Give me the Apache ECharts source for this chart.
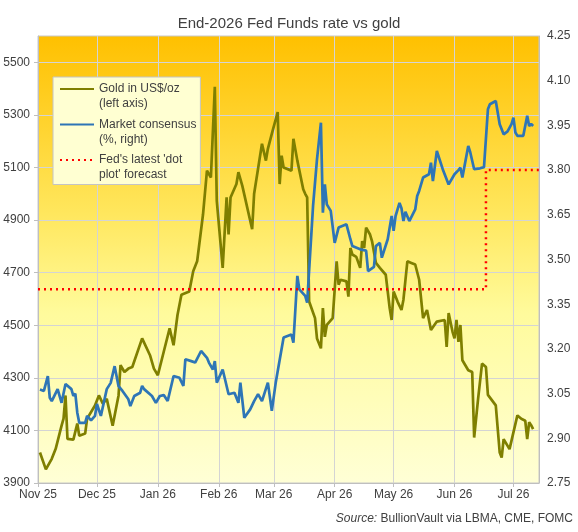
<!DOCTYPE html>
<html>
<head>
<meta charset="utf-8">
<script src="https://cdn.jsdelivr.net/npm/echarts@6/dist/echarts.min.js"></script>
<style>
    html, body { margin: 0; padding: 0; background: #fff; }
    #chart { width: 578px; height: 532px; }
</style>
</head>
<body>
<div id="chart"></div>
<script>
// month starts used for x ticks / labels
var monthStarts = ['2025-11-01', '2025-12-01', '2026-01-01', '2026-02-01', '2026-03-01',
    '2026-04-01', '2026-05-01', '2026-06-01', '2026-07-01'];
var monthNames = ['Jan', 'Feb', 'Mar', 'Apr', 'May', 'Jun', 'Jul', 'Aug', 'Sep', 'Oct', 'Nov', 'Dec'];
var leftTicks = [3900, 4100, 4300, 4500, 4700, 4900, 5100, 5300, 5500];
var rightTicks = [2.75, 2.90, 3.05, 3.20, 3.35, 3.50, 3.65, 3.80, 3.95, 4.10, 4.25];

// gold, US$/oz (left axis)
var goldDates = [
    '2025-11-02', '2025-11-03', '2025-11-05', '2025-11-08', '2025-11-10', '2025-11-13', '2025-11-14', '2025-11-15',
    '2025-11-16', '2025-11-19', '2025-11-20', '2025-11-21', '2025-11-22', '2025-11-25', '2025-11-26', '2025-11-30',
    '2025-12-02', '2025-12-04', '2025-12-06', '2025-12-09', '2025-12-11', '2025-12-12', '2025-12-13', '2025-12-15',
    '2025-12-17', '2025-12-19', '2025-12-20', '2025-12-24', '2025-12-28', '2025-12-30', '2026-01-01', '2026-01-04',
    '2026-01-07', '2026-01-09', '2026-01-11', '2026-01-13', '2026-01-14', '2026-01-17', '2026-01-19', '2026-01-21',
    '2026-01-24', '2026-01-26', '2026-01-28', '2026-01-30', '2026-01-31', '2026-02-03', '2026-02-05', '2026-02-06',
    '2026-02-07', '2026-02-10', '2026-02-11', '2026-02-13', '2026-02-18', '2026-02-19', '2026-02-20', '2026-02-23',
    '2026-02-25', '2026-02-26', '2026-02-28', '2026-03-03', '2026-03-04', '2026-03-05', '2026-03-06', '2026-03-10',
    '2026-03-11', '2026-03-13', '2026-03-16', '2026-03-17', '2026-03-18', '2026-03-19', '2026-03-22', '2026-03-23',
    '2026-03-25', '2026-03-26', '2026-03-27', '2026-03-28', '2026-03-31', '2026-04-02', '2026-04-03', '2026-04-04',
    '2026-04-07', '2026-04-08', '2026-04-09', '2026-04-10', '2026-04-12', '2026-04-14', '2026-04-15', '2026-04-16',
    '2026-04-17', '2026-04-19', '2026-04-20', '2026-04-22', '2026-04-24', '2026-04-27', '2026-04-29', '2026-04-30',
    '2026-05-01', '2026-05-03', '2026-05-05', '2026-05-06', '2026-05-08', '2026-05-10', '2026-05-12', '2026-05-13',
    '2026-05-14', '2026-05-16', '2026-05-18', '2026-05-20', '2026-05-23', '2026-05-27', '2026-05-28', '2026-05-29',
    '2026-05-31', '2026-06-01', '2026-06-02', '2026-06-03', '2026-06-04', '2026-06-05', '2026-06-08', '2026-06-10',
    '2026-06-11', '2026-06-13', '2026-06-15', '2026-06-17', '2026-06-18', '2026-06-22', '2026-06-24', '2026-06-25',
    '2026-06-26', '2026-06-29', '2026-06-30', '2026-07-03', '2026-07-05', '2026-07-07', '2026-07-08', '2026-07-09',
    '2026-07-10', '2026-07-11'
];
var goldPrices = [
    4016, 4022, 3952, 3992, 4030, 4118, 4145, 4233,
    4068, 4065, 4061, 4126, 4080, 4088, 4145, 4195,
    4233, 4202, 4220, 4118, 4195, 4233, 4348, 4322,
    4335, 4341, 4335, 4450, 4386, 4335, 4310, 4399,
    4488, 4424, 4539, 4616, 4622, 4628, 4705, 4743,
    4922, 5088, 5062, 5407, 4973, 4718, 4986, 4845,
    4986, 5037, 5082, 5030, 4865, 5000, 5007, 5190,
    5126, 5171, 5228, 5311, 5037, 5145, 5100, 5088,
    5209, 5126, 5017, 5000, 4986, 4590, 4527, 4450,
    4412, 4565, 4456, 4501, 4527, 4743, 4654, 4673,
    4667, 4609, 4794, 4769, 4760, 4718, 4820, 4794,
    4871, 4845, 4820, 4737, 4718, 4692, 4565, 4520,
    4628, 4590, 4558, 4597, 4743, 4737, 4731, 4737,
    4673, 4527, 4558, 4482, 4514, 4520, 4418, 4546,
    4475, 4450, 4520, 4437, 4501, 4367, 4329, 4322,
    4073, 4220, 4354, 4341, 4235, 4195, 4016, 3997,
    4067, 4029, 4029, 4157, 4144, 4137, 4067, 4131,
    4120, 4105
];

// market consensus for end-2026 fed funds, % (right axis)
var rateDates = [
    '2025-11-02', '2025-11-04', '2025-11-06', '2025-11-07', '2025-11-08', '2025-11-11', '2025-11-13', '2025-11-15',
    '2025-11-18', '2025-11-19', '2025-11-20', '2025-11-21', '2025-11-22', '2025-11-25', '2025-11-26', '2025-11-28',
    '2025-11-30', '2025-12-01', '2025-12-03', '2025-12-06', '2025-12-08', '2025-12-10', '2025-12-12', '2025-12-14',
    '2025-12-17', '2025-12-18', '2025-12-20', '2025-12-23', '2025-12-24', '2025-12-25', '2025-12-29', '2025-12-31',
    '2026-01-02', '2026-01-04', '2026-01-06', '2026-01-07', '2026-01-09', '2026-01-12', '2026-01-14', '2026-01-15',
    '2026-01-18', '2026-01-20', '2026-01-23', '2026-01-26', '2026-01-27', '2026-01-29', '2026-01-30', '2026-01-31',
    '2026-02-03', '2026-02-04', '2026-02-06', '2026-02-09', '2026-02-11', '2026-02-12', '2026-02-14', '2026-02-17',
    '2026-02-19', '2026-02-21', '2026-02-23', '2026-02-26', '2026-02-28', '2026-03-02', '2026-03-06', '2026-03-08',
    '2026-03-10', '2026-03-11', '2026-03-13', '2026-03-14', '2026-03-17', '2026-03-18', '2026-03-21', '2026-03-23',
    '2026-03-25', '2026-03-26', '2026-03-27', '2026-03-28', '2026-03-30', '2026-04-01', '2026-04-02', '2026-04-03',
    '2026-04-07', '2026-04-09', '2026-04-10', '2026-04-14', '2026-04-15', '2026-04-17', '2026-04-18', '2026-04-21',
    '2026-04-22', '2026-04-24', '2026-04-25', '2026-04-28', '2026-04-30', '2026-05-01', '2026-05-02', '2026-05-04',
    '2026-05-05', '2026-05-06', '2026-05-07', '2026-05-09', '2026-05-12', '2026-05-13', '2026-05-14', '2026-05-16',
    '2026-05-19', '2026-05-20', '2026-05-21', '2026-05-23', '2026-05-26', '2026-05-29', '2026-06-01', '2026-06-03',
    '2026-06-04', '2026-06-05', '2026-06-08', '2026-06-09', '2026-06-10', '2026-06-11', '2026-06-14', '2026-06-15',
    '2026-06-16', '2026-06-18', '2026-06-19', '2026-06-22', '2026-06-24', '2026-06-25', '2026-06-26', '2026-06-28',
    '2026-06-30', '2026-07-01', '2026-07-02', '2026-07-03', '2026-07-06', '2026-07-07', '2026-07-08', '2026-07-09',
    '2026-07-10', '2026-07-11'
];
var rateValues = [
    3.064, 3.059, 3.109, 3.036, 3.025, 3.065, 3.019, 3.082,
    3.065, 3.042, 3.050, 2.986, 2.952, 2.952, 2.975, 2.960,
    2.975, 3.015, 2.975, 3.065, 3.086, 3.142, 3.075, 3.059,
    3.031, 3.008, 3.042, 3.053, 3.076, 3.065, 3.042, 3.019,
    3.042, 3.045, 3.025, 3.031, 3.109, 3.103, 3.076, 3.165,
    3.159, 3.154, 3.193, 3.170, 3.154, 3.131, 3.159, 3.087,
    3.131, 3.131, 3.048, 3.053, 3.019, 3.087, 2.969, 2.997,
    3.025, 3.048, 3.025, 3.087, 2.992, 3.087, 3.238, 3.243,
    3.248, 3.221, 3.445, 3.400, 3.378, 3.355, 3.680, 3.836,
    3.959, 3.657, 3.752, 3.685, 3.663, 3.556, 3.550, 3.607,
    3.618, 3.568, 3.545, 3.534, 3.540, 3.530, 3.461, 3.475,
    3.545, 3.556, 3.506, 3.568, 3.646, 3.596, 3.646, 3.690,
    3.672, 3.629, 3.660, 3.629, 3.668, 3.713, 3.730, 3.775,
    3.786, 3.825, 3.763, 3.864, 3.803, 3.752, 3.786, 3.800,
    3.808, 3.775, 3.881, 3.860, 3.858, 3.803, 3.806, 3.803,
    3.810, 4.004, 4.021, 4.032, 3.954, 3.948, 3.920, 3.930,
    3.954, 3.976, 3.926, 3.915, 3.915, 3.915, 3.982, 3.948,
    3.955, 3.948
];

// Fed's latest 'dot plot' median for end-2026
var dotDates = ['2025-11-01', '2026-06-17', '2026-06-17', '2026-07-14'];
var dotValues = [3.40, 3.40, 3.80, 3.80];

var seriesNames = ['Gold in US$/oz', 'Market consensus', "Fed's latest 'dot"];
// leading blank line keeps the icon level with the first text line
var legendLabels = {
    'Gold in US$/oz': '\nGold in US$/oz\n(left axis)',
    'Market consensus': '\nMarket consensus\n(%, right)',
    "Fed's latest 'dot": "\nFed's latest 'dot\nplot' forecast"
};

function toTime(s) {
    var p = s.split('-');
    return new Date(+p[0], +p[1] - 1, +p[2]).getTime();
}

function pairs(dates, values) {
    return dates.map(function (d, i) {
        return [toTime(d), values[i]];
    });
}

var font = 'Arial, "Liberation Sans", sans-serif';
var textColor = '#404040';
var gridColor = '#D4D4D4';
var monthTicks = monthStarts.map(toTime);

var myChart = echarts.init(document.getElementById('chart'));
var option = {
    animation: false,
    textStyle: { fontFamily: font },
    title: {
        text: 'End-2026 Fed Funds rate vs gold',
        left: 'center',
        top: 11,
        textStyle: { fontSize: 15, fontWeight: 'normal', color: textColor, fontFamily: font }
    },
    grid: {
        left: 38,
        right: 39,
        top: 36,
        bottom: 49,
        show: true,
        borderColor: '#C8C8C8',
        borderWidth: 1,
        backgroundColor: {
            type: 'linear', x: 0, y: 0, x2: 0, y2: 1,
            colorStops: [
                { offset: 0, color: '#FFC000' },
                { offset: 0.4, color: '#FFE75E' },
                { offset: 0.62, color: '#FFFB9C' },
                { offset: 1, color: '#FFFFD6' }
            ]
        }
    },
    legend: {
        data: seriesNames,
        orient: 'vertical',
        left: 53,
        top: 77,
        padding: [-10.5, 4, 2, 6],
        itemGap: -9.5,
        itemWidth: 34,
        itemHeight: 14,
        itemStyle: { opacity: 0 },
        backgroundColor: '#FFFFD2',
        borderColor: '#C4C4C4',
        borderWidth: 1,
        formatter: function (name) {
            return legendLabels[name];
        },
        textStyle: {
            color: textColor,
            fontSize: 12,
            lineHeight: 15,
            fontFamily: font
        }
    },
    xAxis: {
        // plain value axis holding timestamps, so month ticks can be placed exactly
        type: 'value',
        min: toTime('2025-11-01'),
        max: toTime('2026-07-14'),
        axisLine: { lineStyle: { color: '#BFBFBF' } },
        axisTick: { show: true, length: 4, customValues: monthTicks, lineStyle: { color: '#BFBFBF' } },
        axisLabel: {
            customValues: monthTicks,
            margin: 6,
            color: textColor,
            fontSize: 12,
            formatter: function (v) {
                var d = new Date(v);
                return monthNames[d.getMonth()] + ' ' + String(d.getFullYear()).slice(2);
            }
        },
        splitLine: { show: true, lineStyle: { color: gridColor } }
    },
    yAxis: [
        {
            type: 'value',
            position: 'left',
            min: 3900,
            max: 5600,
            axisLine: { show: true, lineStyle: { color: '#BFBFBF' } },
            axisTick: { show: true, length: 4, customValues: leftTicks, lineStyle: { color: '#BFBFBF' } },
            axisLabel: {
                customValues: leftTicks,
                margin: 8,
                color: textColor,
                fontSize: 12,
                formatter: function (v) {
                    return String(v);
                }
            },
            splitLine: { show: true, lineStyle: { color: gridColor } }
        },
        {
            type: 'value',
            position: 'right',
            min: 2.75,
            max: 4.25,
            axisLine: { show: true, lineStyle: { color: '#BFBFBF' } },
            axisTick: { show: false, customValues: rightTicks },
            axisLabel: {
                customValues: rightTicks,
                margin: 8,
                color: textColor,
                fontSize: 12,
                formatter: function (v) {
                    return v.toFixed(2);
                }
            },
            splitLine: { show: false }
        }
    ],
    series: [
        {
            name: seriesNames[0],
            type: 'line',
            yAxisIndex: 0,
            symbol: 'none',
            lineStyle: { color: '#7F7F00', width: 2.7 },
            itemStyle: { color: '#7F7F00' },
            data: pairs(goldDates, goldPrices)
        },
        {
            name: seriesNames[1],
            type: 'line',
            yAxisIndex: 1,
            symbol: 'none',
            lineStyle: { color: '#2E75B6', width: 2.7 },
            itemStyle: { color: '#2E75B6' },
            data: pairs(rateDates, rateValues)
        },
        {
            name: seriesNames[2],
            type: 'line',
            yAxisIndex: 1,
            symbol: 'none',
            lineStyle: { color: '#FF0000', width: 2.5, type: [2, 4] },
            itemStyle: { color: '#FF0000' },
            data: pairs(dotDates, dotValues)
        }
    ],
    graphic: [
        {
            type: 'text',
            right: 5,
            top: 513,
            style: {
                text: '{i|Source:} BullionVault via LBMA, CME, FOMC',
                font: '12px ' + font,
                fill: textColor,
                rich: {
                    i: { fontStyle: 'italic', fontSize: 12, fill: textColor, fontFamily: font }
                }
            }
        }
    ]
};
myChart.setOption(option);
</script>
</body>
</html>
